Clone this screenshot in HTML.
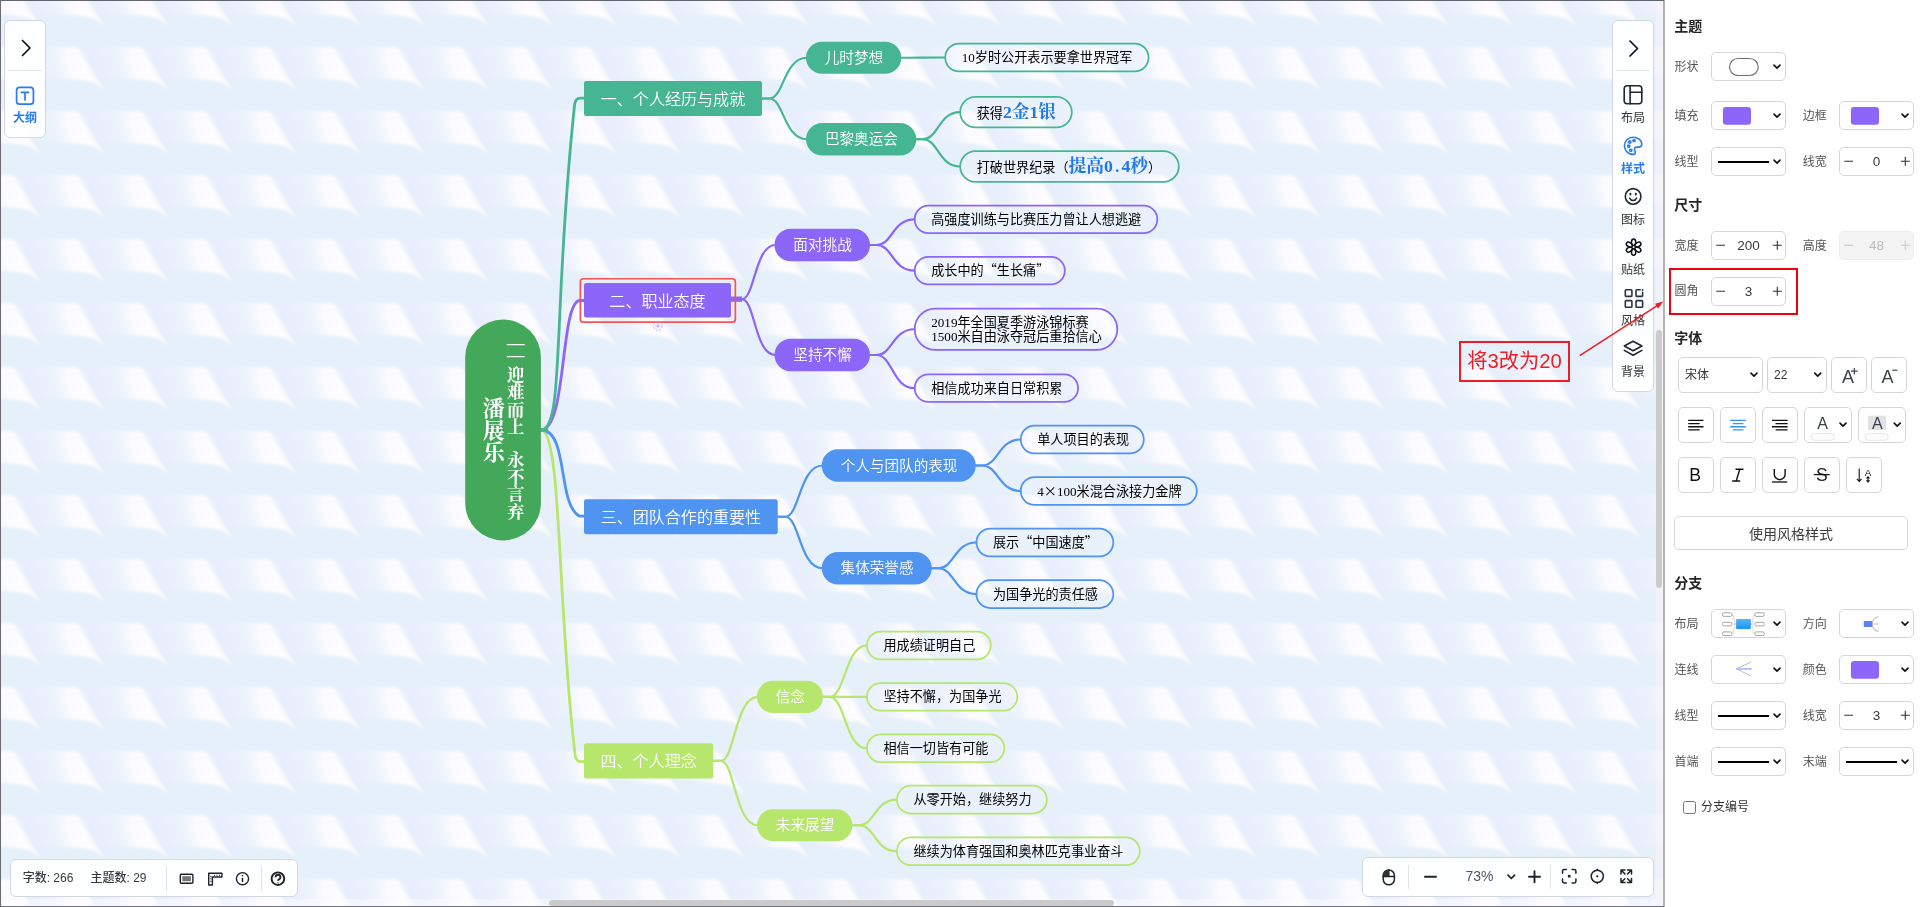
<!DOCTYPE html>
<html lang="zh-CN"><head><meta charset="utf-8"><title>思维导图</title>
<style>
*{box-sizing:border-box}
html,body{margin:0;padding:0}
body{width:1920px;height:907px;overflow:hidden;position:relative;background:#fff;font-family:'Liberation Sans','Noto Sans CJK SC',sans-serif;color:#333;font-size:12px}
#canvas{position:absolute;left:0;top:0;width:1663px;height:907px;overflow:hidden;background:#e6f0fa}
#map{position:absolute;left:0;top:0;display:block;will-change:transform}
#frame{position:absolute;left:0;top:0;width:1664px;height:907px;border-top:1px solid #5f6670;border-left:1px solid #6b6b73;border-bottom:1px solid #70737b;pointer-events:none}
#vborder{position:absolute;left:1663px;top:0;width:2px;height:907px;background:#b4b2b3}
#hscroll{position:absolute;left:549.400px;top:900px;width:565px;height:6px;border-radius:3px;background:#cbcbcb}
#vtrack{position:absolute;left:1656px;top:1px;width:7px;height:905px;background:rgba(247,243,247,.6)}
#htrack{position:absolute;left:1px;top:899px;width:1655px;height:7px;background:rgba(255,255,255,.4)}
#vscroll{position:absolute;left:1656px;top:329.5px;width:6px;height:258.5px;border-radius:3px;background:#cbcbcb}
.fl{will-change:transform;position:absolute;background:rgba(255,255,255,.9);border:1px solid #d3d8e0;border-radius:6px}
.fl svg{position:absolute;overflow:visible}
.lbl{position:absolute;width:42px;left:-1px;text-align:center;font-size:12px;line-height:14px;color:#333;white-space:nowrap}
#leftbar{left:4px;top:20px;width:42px;height:118px}
#rightbar{left:1612px;top:20px;width:42px;height:372px}
.sep{position:absolute;background:#dfe3ea}
#status{left:10px;top:859px;width:288px;height:38px}
#status span{position:absolute;top:11px;font-size:12px;line-height:14px;color:#3a3a3a;font-weight:500;white-space:nowrap}
#zoombar{left:1362px;top:857px;width:292px;height:40px}
#zoombar span{position:absolute;left:102.5px;top:10px;font-size:14px;line-height:16px;color:#555}
#panel{position:absolute;left:1665px;top:0;width:255px;height:907px;background:#fff;will-change:transform}
#panel .h{position:absolute;left:9.300px;font-size:14px;font-weight:700;color:#262626;line-height:16px;white-space:nowrap;margin-top:.8px}
#panel .l{position:absolute;font-size:12px;color:#555;line-height:14px;white-space:nowrap}
#panel .b{position:absolute;border:1px solid #d6d6d6;border-radius:5px;background:#fff}
#panel .b svg{position:absolute;overflow:visible}
#panel .b.dis{background:#f3f3f3;border-color:#ededed}
#panel .v{position:absolute;left:0;right:0;text-align:center;font-size:13.500px;line-height:16px;top:5.500px;color:#3a3a3a}
#panel .dis .v{color:#bdbdbd}
#panel .t{position:absolute;font-size:12px;line-height:14px;color:#333;white-space:nowrap}
#redbox{position:absolute;left:4px;top:268px;width:129px;height:46.700px;border:2px solid #f0000f}
#annot{will-change:transform;position:absolute;left:1459px;top:341px;width:111px;height:40.500px;border:2px solid #ee1c25;color:#ee1c25;font-size:20.300px;line-height:22px;text-align:center;padding-top:6.500px;white-space:nowrap}
#arrow{position:absolute;left:0;top:0;pointer-events:none}
</style></head><body>
<div id="canvas"><svg id="map" width="1663" height="907" viewBox="0 0 1663 907"><defs>
<linearGradient id="wg1" gradientUnits="userSpaceOnUse" x1="-42" x2="22" y1="0" y2="0" gradientTransform="matrix(1,0,.22,1,-14,0)"><stop offset="0" stop-color="#e9f0fc"/><stop offset=".09" stop-color="#e7eefb"/><stop offset=".34" stop-color="#e9f0fc"/><stop offset=".53" stop-color="#eff3fd"/><stop offset=".66" stop-color="#f6f8ff"/><stop offset=".76" stop-color="#fbfaff"/><stop offset=".9" stop-color="#fcfbff"/><stop offset="1" stop-color="#fcfbff"/></linearGradient>
<filter id="wb" x="-10%" y="-10%" width="120%" height="120%"><feGaussianBlur stdDeviation="1.600"/></filter>
<pattern id="wave" x="0" y="0" width="64" height="64" patternUnits="userSpaceOnUse">
<rect width="64" height="64" fill="#e6f0fa"/>
<g fill="url(#wg1)" filter="url(#wb)"><path d="M-49,47H9C13.500,47 15.500,49.500 17.500,53L32,78C35,81.500 37.500,85 39.500,89.500C34,84 25,80.500 12,79.500C-6,78.500 -20,77 -33,73.500Z" transform="translate(0,-64)"/><path d="M-49,47H9C13.500,47 15.500,49.500 17.500,53L32,78C35,81.500 37.500,85 39.500,89.500C34,84 25,80.500 12,79.500C-6,78.500 -20,77 -33,73.500Z" transform="translate(64,-64)"/><path d="M-49,47H9C13.500,47 15.500,49.500 17.500,53L32,78C35,81.500 37.500,85 39.500,89.500C34,84 25,80.500 12,79.500C-6,78.500 -20,77 -33,73.500Z" transform="translate(128,-64)"/><path d="M-49,47H9C13.500,47 15.500,49.500 17.500,53L32,78C35,81.500 37.500,85 39.500,89.500C34,84 25,80.500 12,79.500C-6,78.500 -20,77 -33,73.500Z" transform="translate(0,0)"/><path d="M-49,47H9C13.500,47 15.500,49.500 17.500,53L32,78C35,81.500 37.500,85 39.500,89.500C34,84 25,80.500 12,79.500C-6,78.500 -20,77 -33,73.500Z" transform="translate(64,0)"/><path d="M-49,47H9C13.500,47 15.500,49.500 17.500,53L32,78C35,81.500 37.500,85 39.500,89.500C34,84 25,80.500 12,79.500C-6,78.500 -20,77 -33,73.500Z" transform="translate(128,0)"/></g>
</pattern></defs><rect width="1663" height="907" fill="url(#wave)"/><g fill="none" stroke-width="2.2" stroke-linecap="round"><path d="M541,430C562.100,430 557.300,614 575.300,756Q576.200,761.700 581,761.700H585" stroke="#b6e66c" stroke-width="2.8"/><path d="M541,430C568.800,430 557.100,504.900 579.600,516.200H585" stroke="#5094f2" stroke-width="2.8"/><path d="M541,430C566.900,430 560,302.800 579.600,300.500H585" stroke="#8b66f8" stroke-width="2.8"/><path d="M541,430C564.8,430 552.4,312.3 574.6,104.500Q575.400,98.100 580.500,98.100H585" stroke="#46b692" stroke-width="2.8"/><path d="M540,430H547" stroke="#46b692" stroke-width="2.8"/><path d="M761,98.5H769.5C783.75,98.5 783.75,57.75 807,57.75" stroke="#46b692"/><path d="M761,98.5H769.5C783.75,98.5 783.75,139.25 807,139.25" stroke="#46b692"/><path d="M730,299.05H742C754.73,299.05 754.73,245 775.5,245" stroke="#8b66f8"/><path d="M730,299.05H742C754.73,299.05 754.73,355 775.5,355" stroke="#8b66f8"/><path d="M776.75,516.75H785.25C799.5,516.75 799.5,465.5 822.75,465.5" stroke="#5094f2"/><path d="M776.75,516.75H785.25C799.5,516.75 799.5,568.25 822.75,568.25" stroke="#5094f2"/><path d="M712.25,760.88H720.75C734.9,760.88 734.9,696.88 758,696.88" stroke="#b6e66c"/><path d="M712.25,760.88H720.75C734.9,760.88 734.9,825.25 758,825.25" stroke="#b6e66c"/><path d="M900.25,57.75H907.75C923.39,57.75 923.39,57.5 945,57.5" stroke="#46b692"/><path d="M915.25,139.25H922.75C938.39,139.25 938.39,112.12 960,112.12" stroke="#46b692"/><path d="M915.25,139.25H922.75C938.39,139.25 938.39,166.5 960,166.5" stroke="#46b692"/><path d="M869,245H876.5C892.46,245 892.46,219.38 914.5,219.38" stroke="#8b66f8"/><path d="M869,245H876.5C892.46,245 892.46,270.62 914.5,270.62" stroke="#8b66f8"/><path d="M869,355H876.5C892.46,355 892.46,329.25 914.5,329.25" stroke="#8b66f8"/><path d="M869,355H876.5C892.46,355 892.46,388.12 914.5,388.12" stroke="#8b66f8"/><path d="M974.75,465.5H982.25C998.32,465.5 998.32,439.5 1020.5,439.5" stroke="#5094f2"/><path d="M974.75,465.5H982.25C998.32,465.5 998.32,491 1020.5,491" stroke="#5094f2"/><path d="M930.75,568.25H938.25C954.21,568.25 954.21,542.5 976.25,542.5" stroke="#5094f2"/><path d="M930.75,568.25H938.25C954.21,568.25 954.21,594.12 976.25,594.12" stroke="#5094f2"/><path d="M822,696.88H829.5C845.14,696.88 845.14,645.5 866.75,645.5" stroke="#b6e66c"/><path d="M822,696.88H829.5C845.14,696.88 845.14,696.88 866.75,696.88" stroke="#b6e66c"/><path d="M822,696.88H829.5C845.14,696.88 845.14,748.25 866.75,748.25" stroke="#b6e66c"/><path d="M851.5,825.25H859C874.86,825.25 874.86,799.62 896.75,799.62" stroke="#b6e66c"/><path d="M851.5,825.25H859C874.86,825.25 874.86,851.25 896.75,851.25" stroke="#b6e66c"/></g><g font-family="'Liberation Serif','Noto Sans CJK SC',sans-serif"><path d="M731,297.500H742M731,300.700H742" stroke="#8b66f8" stroke-width="2.200" fill="none"/><rect x="465.2" y="319.5" width="75.7" height="221" rx="37.85" fill="#44a85a"/><text text-anchor="middle" font-family="'Liberation Serif','Noto Serif CJK SC',serif" font-weight="700" font-size="17.5" fill="#fff"><tspan x="515.7" y="348.5">—</tspan><tspan x="515.7" y="361.2">—</tspan><tspan x="515.7" y="380.5">迎</tspan><tspan x="515.7" y="398.2">难</tspan><tspan x="515.7" y="415.9">而</tspan><tspan x="515.7" y="432.6">上</tspan><tspan x="515.7" y="465.5">永</tspan><tspan x="515.7" y="482.7">不</tspan><tspan x="515.7" y="500">言</tspan><tspan x="515.7" y="518">弃</tspan></text><text text-anchor="middle" font-family="'Liberation Serif','Noto Serif CJK SC',serif" font-weight="700" font-size="21.9" fill="#fff"><tspan x="493.6" y="415.7">潘</tspan><tspan x="493.6" y="438">展</tspan><tspan x="493.6" y="459.7">乐</tspan></text><rect x="584" y="81" width="178" height="35" rx="2.2" fill="#46b692"/><text x="673" y="104.8" text-anchor="middle" font-size="16.06" font-weight="350" fill="#fff">一、个人经历与成就</text><rect x="584" y="283" width="147" height="34.5" rx="2.2" fill="#8b66f8"/><text x="657.5" y="306.55" text-anchor="middle" font-size="16.06" font-weight="350" fill="#fff">二、职业态度</text><rect x="584" y="499.25" width="193.75" height="35" rx="2.2" fill="#5094f2"/><text x="680.88" y="523.05" text-anchor="middle" font-size="16.06" font-weight="350" fill="#fff">三、团队合作的重要性</text><rect x="584" y="743.25" width="129.25" height="35.25" rx="2.2" fill="#b6e66c"/><text x="648.62" y="767.17" text-anchor="middle" font-size="16.06" font-weight="350" fill="#fff">四、个人理念</text><rect x="580.350" y="278.750" width="155" height="43.400" rx="3" fill="none" stroke="#fb5252" stroke-width="1.700"/><g stroke="#b5a0fa" fill="none" stroke-width="0.900"><circle cx="657.900" cy="326" r="4.300" stroke-dasharray="2 1.400"/><path d="M657.900,323.500v5M655.400,326h5"/></g><rect x="806" y="41.75" width="95.25" height="32" rx="16" fill="#46b692"/><text x="853.92" y="62.85" text-anchor="middle" font-size="14.6" font-weight="350" fill="#fff">儿时梦想</text><rect x="806" y="123" width="110.25" height="32.5" rx="16.25" fill="#46b692"/><text x="861.42" y="144.35" text-anchor="middle" font-size="14.6" font-weight="350" fill="#fff">巴黎奥运会</text><rect x="774.5" y="228.75" width="95.5" height="32.5" rx="16.25" fill="#8b66f8"/><text x="822.55" y="250.1" text-anchor="middle" font-size="14.6" font-weight="350" fill="#fff">面对挑战</text><rect x="774.5" y="338.75" width="95.5" height="32.5" rx="16.25" fill="#8b66f8"/><text x="822.55" y="360.1" text-anchor="middle" font-size="14.6" font-weight="350" fill="#fff">坚持不懈</text><rect x="821.75" y="449.25" width="154" height="32.5" rx="16.25" fill="#5094f2"/><text x="899.05" y="470.6" text-anchor="middle" font-size="14.6" font-weight="350" fill="#fff">个人与团队的表现</text><rect x="821.75" y="552" width="110" height="32.5" rx="16.25" fill="#5094f2"/><text x="877.05" y="573.35" text-anchor="middle" font-size="14.6" font-weight="350" fill="#fff">集体荣誉感</text><rect x="757" y="680.75" width="66" height="32.25" rx="16.12" fill="#b6e66c"/><text x="790.3" y="701.98" text-anchor="middle" font-size="14.6" font-weight="350" fill="#fff">信念</text><rect x="757" y="809.25" width="95.5" height="32" rx="16" fill="#b6e66c"/><text x="805.05" y="830.35" text-anchor="middle" font-size="14.6" font-weight="350" fill="#fff">未来展望</text><rect x="945.2" y="43.7" width="203.35" height="27.6" rx="13.8" fill="rgba(255,255,255,.12)" stroke="#46b692" stroke-width="1.750"/><text x="961.7" y="62.1" font-size="13.14" fill="#000">10岁时公开表示要拿世界冠军</text><rect x="960.2" y="96.95" width="111.6" height="30.35" rx="15.18" fill="rgba(255,255,255,.12)" stroke="#46b692" stroke-width="1.750"/><text x="976.7" y="117.72" font-size="13.14" fill="#000">获得<tspan font-family="'Liberation Serif','Noto Serif CJK SC',serif" font-weight="700" font-size="17.7" fill="#1f77ee">2金1银</tspan></text><rect x="960.2" y="151.2" width="218.6" height="30.6" rx="15.3" fill="rgba(255,255,255,.12)" stroke="#46b692" stroke-width="1.750"/><text x="976.7" y="172.1" font-size="13.14" fill="#000">打破世界纪录（<tspan font-family="'Liberation Serif','Noto Serif CJK SC',serif" font-weight="700" font-size="17.7" fill="#1f77ee">提高0<tspan dx="2.1">.</tspan><tspan dx="2.1">4</tspan>秒</tspan>）</text><rect x="914.7" y="205.7" width="242.6" height="27.35" rx="13.68" fill="rgba(255,255,255,.12)" stroke="#8b66f8" stroke-width="1.750"/><text x="931.2" y="223.97" font-size="13.14" fill="#000">高强度训练与比赛压力曾让人想逃避</text><rect x="914.7" y="256.95" width="150.1" height="27.35" rx="13.68" fill="rgba(255,255,255,.12)" stroke="#8b66f8" stroke-width="1.750"/><text x="931.2" y="275.23" font-size="13.14" fill="#000">成长中的<tspan font-family="'Noto Sans CJK SC',sans-serif">“</tspan>生长痛<tspan font-family="'Noto Sans CJK SC',sans-serif">”</tspan></text><rect x="914.7" y="308.7" width="202.6" height="41.1" rx="20.55" fill="rgba(255,255,255,.12)" stroke="#8b66f8" stroke-width="1.750"/><text font-size="13.14" fill="#000"><tspan x="931.2" y="326.75">2019年全国夏季游泳锦标赛</tspan><tspan x="931.2" y="340.95">1500米自由泳夺冠后重拾信心</tspan></text><rect x="914.7" y="374.45" width="163.35" height="27.35" rx="13.68" fill="rgba(255,255,255,.12)" stroke="#8b66f8" stroke-width="1.750"/><text x="931.2" y="392.73" font-size="13.14" fill="#000">相信成功来自日常积累</text><rect x="1020.7" y="425.7" width="123.1" height="27.6" rx="13.8" fill="rgba(255,255,255,.12)" stroke="#5094f2" stroke-width="1.750"/><text x="1037.2" y="444.1" font-size="13.14" fill="#000">单人项目的表现</text><rect x="1020.7" y="477.2" width="176.1" height="27.6" rx="13.8" fill="rgba(255,255,255,.12)" stroke="#5094f2" stroke-width="1.750"/><text x="1037.2" y="495.6" font-size="13.14" fill="#000">4<tspan font-family="'Noto Sans CJK SC',sans-serif">×</tspan>100米混合泳接力金牌</text><rect x="976.45" y="528.7" width="136.85" height="27.6" rx="13.8" fill="rgba(255,255,255,.12)" stroke="#5094f2" stroke-width="1.750"/><text x="992.95" y="547.1" font-size="13.14" fill="#000">展示<tspan font-family="'Noto Sans CJK SC',sans-serif">“</tspan>中国速度<tspan font-family="'Noto Sans CJK SC',sans-serif">”</tspan></text><rect x="976.45" y="580.2" width="136.85" height="27.85" rx="13.93" fill="rgba(255,255,255,.12)" stroke="#5094f2" stroke-width="1.750"/><text x="992.95" y="598.73" font-size="13.14" fill="#000">为国争光的责任感</text><rect x="866.95" y="631.7" width="123.85" height="27.6" rx="13.8" fill="rgba(255,255,255,.12)" stroke="#b6e66c" stroke-width="1.750"/><text x="883.45" y="650.1" font-size="13.14" fill="#000">用成绩证明自己</text><rect x="866.95" y="683.2" width="150.35" height="27.35" rx="13.68" fill="rgba(255,255,255,.12)" stroke="#b6e66c" stroke-width="1.750"/><text x="883.45" y="701.48" font-size="13.14" fill="#000">坚持不懈，为国争光</text><rect x="866.95" y="734.45" width="137.35" height="27.6" rx="13.8" fill="rgba(255,255,255,.12)" stroke="#b6e66c" stroke-width="1.750"/><text x="883.45" y="752.85" font-size="13.14" fill="#000">相信一切皆有可能</text><rect x="896.95" y="785.7" width="149.85" height="27.85" rx="13.93" fill="rgba(255,255,255,.12)" stroke="#b6e66c" stroke-width="1.750"/><text x="913.45" y="804.23" font-size="13.14" fill="#000">从零开始，继续努力</text><rect x="896.95" y="837.45" width="242.85" height="27.6" rx="13.8" fill="rgba(255,255,255,.12)" stroke="#b6e66c" stroke-width="1.750"/><text x="913.45" y="855.85" font-size="13.14" fill="#000">继续为体育强国和奥林匹克事业奋斗</text></g></svg>
<div id="htrack"></div><div id="vtrack"></div><div id="hscroll"></div><div id="vscroll"></div>
<div class="fl" id="leftbar">
<svg width="41" height="118" style="left:-.2px;top:-1px"><path d="M17.5,20.5l7.5,7.5l-7.5,7.5" fill="none" stroke="#111" stroke-width="1.7" stroke-linecap="round" stroke-linejoin="round"/>
<rect x="11.6" y="67.4" width="16.8" height="16.8" rx="3" fill="none" stroke="#2b7cf0" stroke-width="1.7"/>
<path d="M16.4,72.3h7.2M20,72.3v7.6" fill="none" stroke="#2b7cf0" stroke-width="1.7" stroke-linecap="round"/></svg>
<div class="sep" style="left:3px;top:48.5px;width:33px;height:1px"></div>
<div class="lbl" style="top:89.5px;color:#2b7cf0;font-weight:700">大纲</div>
</div><div class="fl" id="status">
<span style="left:11.7px">字数: 266</span><span style="left:79.5px">主题数: 29</span>
<div class="sep" style="left:154.800px;top:6px;width:1px;height:25px"></div>
<div class="sep" style="left:250px;top:6px;width:1px;height:25px"></div>
<svg width="287" height="37" style="left:-.4px;top:-1.500px">
<g fill="none" stroke="#222" stroke-width="1.4">
<rect x="169.3" y="15.2" width="12.6" height="9" rx="1"/><rect x="171.300" y="17.200" width="8.600" height="5" fill="#777" stroke="none"/>
<path d="M197.7,26V14.3h13.2v3.7h-9.5v8z" stroke-linejoin="round"/><path d="M199,17.3h1.6M199,19.8h1.6M199,22.3h1.6M203.5,15.8v1.2M206,15.8v1.2M208.5,15.8v1.2" stroke-width=".8"/>
<circle cx="231.5" cy="19.7" r="6.1"/><path d="M231.5,18.7v4.2M231.5,16.1v1.2" stroke-width="1.5"/>
<circle cx="266.9" cy="19.7" r="6.3" stroke-width="1.9"/><path d="M264.600,18.200a2.400,2.400 0 1 1 3.500,2.100q-1.100,.6 -1.100,1.500M267,23.400v.8" stroke-width="1.900"/>
</g></svg></div><div class="fl" id="zoombar">
<span>73%</span>
<div class="sep" style="left:45.2px;top:7px;width:1px;height:24px"></div>
<div class="sep" style="left:187px;top:7px;width:1px;height:24px"></div>
<svg width="291" height="39" style="left:-.5px;top:-.6px">
<g fill="none" stroke="#222" stroke-width="1.5" stroke-linecap="round" stroke-linejoin="round">
<path d="M20.2,18.6a5.6,5.6 0 0 1 11.2,0v3.6a5.6,5.6 0 0 1 -11.2,0z"/><path d="M20.2,19.4h11.2M25.8,13v6.4"/><path d="M20.4,19.2a5.4,5.4 0 0 1 5.2,-6v6z" fill="#333" stroke="none"/>
<path d="M62,19.7h11" stroke-width="1.9"/>
<path d="M166,19.7h11M171.5,14.2v11" stroke-width="1.9"/>
<path d="M145,18.2l3.3,3.3l3.3,-3.3" stroke-width="1.7"/>
<path d="M199.5,16.3v-2.2a1.6,1.6 0 0 1 1.6,-1.6h2.2M209.1,12.5h2.2a1.6,1.6 0 0 1 1.6,1.6v2.2M212.9,22.1v2.2a1.6,1.6 0 0 1 -1.6,1.6h-2.2M203.3,25.9h-2.2a1.6,1.6 0 0 1 -1.6,-1.6v-2.2"/><rect x="204.9" y="17.9" width="2.6" height="2.6" fill="#222" stroke="none"/>
<circle cx="234.3" cy="19.3" r="6.1"/><circle cx="234.3" cy="19.3" r="1.1" fill="#222" stroke="none"/><path d="M234.3,12.2v1M234.3,25.4v1" />
<path d="M258,17v-4h4M268.5,13h-4M268.500,13h0M268.5,13v4M258,21.600v4h4M268.5,21.600v4h-4M258.300,13.300l3.600,3.600M268.200,13.300l-3.600,3.600M258.300,25.300l3.600,-3.600M268.200,25.300l-3.600,-3.600" stroke-width="1.5"/>
</g></svg></div><div class="fl" id="rightbar">
<svg width="41" height="372" style="left:-1px;top:-1px">
<g fill="none" stroke="#1f2733" stroke-width="1.6" stroke-linecap="round" stroke-linejoin="round" transform="translate(.5,0)">
<path d="M17.5,21l7.5,7.500l-7.5,7.500" stroke="#111" stroke-width="1.7"/>
<rect x="11.700" y="65.800" width="17.600" height="18" rx="3"/><path d="M17.600,65.800v18M17.600,72.200h11.700"/>
<g stroke="#2b7cf0"><path d="M20.500,117.200a8.600,8.600 0 1 0 0,17.200c1.700,0 2.400,-1 2.400,-2.100c0,-1.500 -1,-1.900 -1,-3.100c0,-1.300 1.100,-2.100 2.400,-2.100h1.700c2.100,0 3.300,-1.400 3.300,-3.200c0,-3.900 -3.900,-6.700 -8.800,-6.700z"/><circle cx="16.200" cy="126.200" r="1.100"/><circle cx="17.300" cy="122" r="1.100"/><circle cx="21.500" cy="120.600" r="1.100"/><circle cx="18.300" cy="130.300" r="1.100"/></g>
<circle cx="20.600" cy="176.400" r="7.800"/><path d="M17.200,178.200a3.700,3.700 0 0 0 6.800,0"/><path d="M17.900,173.600v.9M23.300,173.600v.9" stroke-width="1.900"/>
<g stroke-width="1.500" stroke="#111"><ellipse cx="21.10" cy="222.20" rx="2.150" ry="3.250" transform="rotate(0 21.10 222.20)"/><ellipse cx="25.34" cy="224.65" rx="2.150" ry="3.250" transform="rotate(60 25.34 224.65)"/><ellipse cx="25.34" cy="229.55" rx="2.150" ry="3.250" transform="rotate(120 25.34 229.55)"/><ellipse cx="21.10" cy="232.00" rx="2.150" ry="3.250" transform="rotate(180 21.10 232.00)"/><ellipse cx="16.86" cy="229.55" rx="2.150" ry="3.250" transform="rotate(240 16.86 229.55)"/><ellipse cx="16.86" cy="224.65" rx="2.150" ry="3.250" transform="rotate(300 16.86 224.65)"/></g>
<g stroke="#2b3442" stroke-width="1.600"><rect x="12.800" y="269.800" width="6.600" height="6.600" rx=".8"/><rect x="12.800" y="280.600" width="6.600" height="6.600" rx=".8"/><rect x="23.500" y="280.600" width="6.600" height="6.600" rx=".8"/><path d="M27.600,269.800h-3.300a.8,.8 0 0 0 -.8,.8v5a.8,.8 0 0 0 .8,.8h5a.8,.8 0 0 0 .8,-.8v-3.200"/><path d="M30,269.900v.100" stroke-width="1.900"/></g>
<path d="M20.600,321.200l8.800,4.800l-8.800,4.800l-8.800,-4.800z"/><path d="M11.800,330.400l8.800,4.800l8.800,-4.800"/>
</g></svg>
<div class="sep" style="left:3px;top:48.500px;width:33px;height:1px"></div>
<div class="lbl" style="top:89.500px">布局</div>
<div class="lbl" style="top:140.500px;color:#2b7cf0;font-weight:700">样式</div>
<div class="lbl" style="top:191.500px">图标</div>
<div class="lbl" style="top:241.500px">贴纸</div>
<div class="lbl" style="top:292.500px">风格</div>
<div class="lbl" style="top:343.500px">背景</div>
</div></div>
<div id="vborder"></div>
<div id="panel"><div class="h" style="top:17px">主题</div><div class="l" style="left:9.5px;top:59.5px">形状</div><div class="b" style="left:46px;top:52px;width:75px;height:29px"><svg width="75" height="29" style="left:-1px;top:-1px"><rect x="18.500" y="6.500" width="28.700" height="17" rx="8.500" fill="none" stroke="#707070" stroke-width="1.200"/><g transform="translate(66,14.6)"><path d="M-3,-1.500L0,1.500L3,-1.500" fill="none" stroke="#111" stroke-width="1.600" stroke-linecap="round" stroke-linejoin="round"/></g></svg></div><div class="l" style="left:9.5px;top:108.5px">填充</div><div class="b" style="left:46px;top:101px;width:75px;height:29px"><svg width="75" height="29" style="left:-1px;top:-1px"><rect x="11.900" y="6" width="28.100" height="17.800" rx="3.200" fill="#8b66f8"/><g transform="translate(66,14.6)"><path d="M-3,-1.500L0,1.500L3,-1.500" fill="none" stroke="#111" stroke-width="1.600" stroke-linecap="round" stroke-linejoin="round"/></g></svg></div><div class="l" style="left:137.8px;top:108.5px">边框</div><div class="b" style="left:174px;top:101px;width:75px;height:29px"><svg width="75" height="29" style="left:-1px;top:-1px"><rect x="11.900" y="6" width="28.100" height="17.800" rx="3.200" fill="#8b66f8"/><g transform="translate(66,14.6)"><path d="M-3,-1.500L0,1.500L3,-1.500" fill="none" stroke="#111" stroke-width="1.600" stroke-linecap="round" stroke-linejoin="round"/></g></svg></div><div class="l" style="left:9.5px;top:154.5px">线型</div><div class="b" style="left:46px;top:147px;width:75px;height:29px"><svg width="75" height="29" style="left:-1px;top:-1px"><path d="M7,15h51" stroke="#000" stroke-width="2"/><g transform="translate(66,14.6)"><path d="M-3,-1.500L0,1.500L3,-1.500" fill="none" stroke="#111" stroke-width="1.600" stroke-linecap="round" stroke-linejoin="round"/></g></svg></div><div class="l" style="left:137.8px;top:154.5px">线宽</div><div class="b" style="left:174px;top:147px;width:75px;height:29px"><svg width="75" height="29" style="left:-1px;top:-1px"><path d="M5.200,14.300h8.800M61.800,14.300h9M66.300,9.800v9" stroke="#333" stroke-width="1.100" fill="none"/></svg><div class="v">0</div></div><div class="h" style="top:196px">尺寸</div><div class="l" style="left:9.5px;top:238.5px">宽度</div><div class="b" style="left:46px;top:231px;width:75px;height:29px"><svg width="75" height="29" style="left:-1px;top:-1px"><path d="M5.200,14.300h8.800M61.800,14.300h9M66.300,9.800v9" stroke="#333" stroke-width="1.100" fill="none"/></svg><div class="v">200</div></div><div class="l" style="left:137.8px;top:238.5px">高度</div><div class="b dis" style="left:174px;top:231px;width:75px;height:29px"><svg width="75" height="29" style="left:-1px;top:-1px"><path d="M5.200,14.300h8.800M61.800,14.300h9M66.300,9.800v9" stroke="#c8c8c8" stroke-width="1.100" fill="none"/></svg><div class="v">48</div></div><div class="l" style="left:9.5px;top:284.3px">圆角</div><div class="b" style="left:46px;top:277px;width:75px;height:29px"><svg width="75" height="29" style="left:-1px;top:-1px"><path d="M5.200,14.300h8.800M61.800,14.300h9M66.300,9.800v9" stroke="#333" stroke-width="1.100" fill="none"/></svg><div class="v">3</div></div><div id="redbox"></div><div class="h" style="top:329px">字体</div><div class="b" style="left:13px;top:357px;width:85px;height:36px"><svg width="85" height="36" style="left:-1px;top:-1px"><g transform="translate(76,17.6)"><path d="M-3,-1.500L0,1.500L3,-1.500" fill="none" stroke="#111" stroke-width="1.600" stroke-linecap="round" stroke-linejoin="round"/></g></svg><div class="t" style="left:6px;top:9.500px">宋体</div></div><div class="b" style="left:102px;top:357px;width:60px;height:36px"><svg width="60" height="36" style="left:-1px;top:-1px"><g transform="translate(50.7,17.6)"><path d="M-3,-1.500L0,1.500L3,-1.500" fill="none" stroke="#111" stroke-width="1.600" stroke-linecap="round" stroke-linejoin="round"/></g></svg><div class="t" style="left:6px;top:9.500px">22</div></div><div class="b" style="left:166px;top:357px;width:36px;height:36px"><svg width="36" height="36" style="left:-1px;top:-1px"><text x="11" y="25.500" font-size="18" fill="#3a4250" font-family="'Liberation Sans',sans-serif">A</text><path d="M20,14.200h6.600M23.300,10.900v6.600" stroke="#3a4250" stroke-width="1.200" fill="none"/></svg></div><div class="b" style="left:206px;top:357px;width:36px;height:36px"><svg width="36" height="36" style="left:-1px;top:-1px"><text x="10.5" y="25.500" font-size="18" fill="#3a4250" font-family="'Liberation Sans',sans-serif">A</text><path d="M21.300,13.200h5" stroke="#3a4250" stroke-width="1.200" fill="none"/></svg></div><div class="b" style="left:13px;top:407px;width:36px;height:36px"><svg width="36" height="36" style="left:-1px;top:-1px"><path d="M10.2,13.4h15.3M10.2,16.6h11.5M10.2,19.7h15.3M10.2,22.8h11.5" stroke="#111" stroke-width="1.350" fill="none"/></svg></div><div class="b" style="left:55px;top:407px;width:36px;height:36px"><svg width="36" height="36" style="left:-1px;top:-1px"><path d="M10.1,13.4h15.7M12.7,16.6h10.7M10.1,19.7h15.7M12.7,22.8h10.7" stroke="#3396ff" stroke-width="1.350" fill="none"/></svg></div><div class="b" style="left:97px;top:407px;width:36px;height:36px"><svg width="36" height="36" style="left:-1px;top:-1px"><path d="M10,13.4h15.6M13.6,16.6h12M10,19.7h15.6M13.6,22.8h12" stroke="#111" stroke-width="1.350" fill="none"/></svg></div><div class="b" style="left:139px;top:407px;width:48px;height:36px"><svg width="48" height="36" style="left:-1px;top:-1px"><text x="13.3" y="21.900" font-size="16" fill="#3a4250" font-family="'Liberation Sans',sans-serif">A</text><rect x="7.3" y="26.600" width="23" height="6.600" rx="3.300" fill="#fff" stroke="#e4e4e4" stroke-width="1"/><g transform="translate(39,17.6)"><path d="M-3,-1.500L0,1.500L3,-1.500" fill="none" stroke="#111" stroke-width="1.600" stroke-linecap="round" stroke-linejoin="round"/></g></svg></div><div class="b" style="left:193px;top:407px;width:48px;height:36px"><svg width="48" height="36" style="left:-1px;top:-1px"><rect x="10" y="8.700" width="18.100" height="14.300" fill="#e2e2e2"/><text x="13.9" y="21.900" font-size="16" fill="#3a4250" font-family="'Liberation Sans',sans-serif">A</text><rect x="7.2" y="26.600" width="23" height="6.600" rx="3.300" fill="#fff" stroke="#e4e4e4" stroke-width="1"/><g transform="translate(39.2,17.6)"><path d="M-3,-1.500L0,1.500L3,-1.500" fill="none" stroke="#111" stroke-width="1.600" stroke-linecap="round" stroke-linejoin="round"/></g></svg></div><div class="b" style="left:13px;top:457px;width:36px;height:36px"><svg width="36" height="36" style="left:-1px;top:-1px"><text x="11.300" y="24.300" font-size="17.600" fill="#111" font-family="'Liberation Sans',sans-serif">B</text></svg></div><div class="b" style="left:55px;top:457px;width:36px;height:36px"><svg width="36" height="36" style="left:-1px;top:-1px"><path d="M15.500,12.200h8M12.200,24h8M19.800,12.200l-3.600,11.800" stroke="#111" stroke-width="1.400" fill="none"/></svg></div><div class="b" style="left:97px;top:457px;width:36px;height:36px"><svg width="36" height="36" style="left:-1px;top:-1px"><path d="M12.300,12v5.300a5.400,5.400 0 0 0 10.800,0v-5.300" stroke="#111" stroke-width="1.400" fill="none"/><path d="M10,25h15.200" stroke="#111" stroke-width="1.300"/></svg></div><div class="b" style="left:139px;top:457px;width:36px;height:36px"><svg width="36" height="36" style="left:-1px;top:-1px"><text x="12" y="24.300" font-size="17.600" fill="#222" font-family="'Liberation Sans',sans-serif">S</text><path d="M9.800,17.600h15.800" stroke="#111" stroke-width="1.200"/></svg></div><div class="b" style="left:181px;top:457px;width:36px;height:36px"><svg width="36" height="36" style="left:-1px;top:-1px"><path d="M13.200,11.600v12.600M10.900,21.800l2.300,2.600l2.300,-2.600M22,20v4.600M20.500,21.300l1.500,-1.600l1.500,1.600M20.500,23.400l1.500,1.600l1.500,-1.600" stroke="#111" stroke-width="1.100" fill="none"/><text x="18.800" y="18.800" font-size="9.800" fill="#111" font-family="'Liberation Sans',sans-serif">A</text></svg></div><div class="b" style="left:9px;top:516px;width:234px;height:34px"><div class="v" style="top:9.300px;font-size:14px;color:#3c3c3c">使用风格样式</div></div><div class="h" style="top:574.300px">分支</div><div class="l" style="left:9.5px;top:616.5px">布局</div><div class="b" style="left:46px;top:609px;width:75px;height:29px"><svg width="75" height="29" style="left:-1px;top:-1px"><defs><linearGradient id="lg" x1="0" x2="0" y1="0" y2="1"><stop offset="0" stop-color="#52b8fc"/><stop offset="1" stop-color="#1c94ee"/></linearGradient></defs><path d="M25,15c-2.500,0 -1.500,-9.400 -3.600,-9.400M25,15h-3.600M25,15c-2.500,0 -1.500,9.600 -3.600,9.600M40,15c2.500,0 1.500,-9.400 3.400,-9.400M40,15h3.400M40,15c2.500,0 1.500,9.600 3.400,9.600" stroke="#d9c9c0" stroke-width=".8" fill="none"/><g fill="#fff" stroke="#a6a6a6" stroke-width="1"><rect x="11.500" y="3.800" width="9.500" height="3.600" rx="1.500"/><rect x="11.500" y="13.300" width="9.500" height="3.600" rx="1.500"/><rect x="11.500" y="22.900" width="9.500" height="3.600" rx="1.500"/><rect x="43.800" y="3.800" width="9.500" height="3.600" rx="1.500"/><rect x="43.800" y="13.300" width="9.500" height="3.600" rx="1.500"/><rect x="43.800" y="22.900" width="9.500" height="3.600" rx="1.500"/></g><rect x="25.100" y="10" width="14.800" height="9.900" rx=".8" fill="url(#lg)"/><g transform="translate(66,14.6)"><path d="M-3,-1.500L0,1.500L3,-1.500" fill="none" stroke="#111" stroke-width="1.600" stroke-linecap="round" stroke-linejoin="round"/></g></svg></div><div class="l" style="left:137.8px;top:616.5px">方向</div><div class="b" style="left:174px;top:609px;width:75px;height:29px"><svg width="75" height="29" style="left:-1px;top:-1px"><path d="M33,15h6.500M39.600,7.800c-4,.6 -6.300,3.600 -6.500,7.200c.2,3.600 2.500,6.600 6.500,7.400" stroke="#bcbcbc" stroke-width="1.100" fill="none"/><rect x="24.800" y="12" width="8.300" height="5.900" rx=".5" fill="#6080f5"/><g transform="translate(66,14.6)"><path d="M-3,-1.500L0,1.500L3,-1.500" fill="none" stroke="#111" stroke-width="1.600" stroke-linecap="round" stroke-linejoin="round"/></g></svg></div><div class="l" style="left:9.5px;top:662.6px">连线</div><div class="b" style="left:46px;top:655px;width:75px;height:29px"><svg width="75" height="29" style="left:-1px;top:-1px"><path d="M40.100,7.100L25.100,13.900L40.100,20.900" stroke="#bdbdbd" stroke-width="1" fill="none"/><path d="M25.100,13.900H40.800" stroke="#a9c4fb" stroke-width="1.900"/><g transform="translate(66,14.6)"><path d="M-3,-1.500L0,1.500L3,-1.500" fill="none" stroke="#111" stroke-width="1.600" stroke-linecap="round" stroke-linejoin="round"/></g></svg></div><div class="l" style="left:137.8px;top:662.6px">颜色</div><div class="b" style="left:174px;top:655px;width:75px;height:29px"><svg width="75" height="29" style="left:-1px;top:-1px"><rect x="11.900" y="6" width="28.100" height="17.800" rx="3.200" fill="#8b66f8"/><g transform="translate(66,14.6)"><path d="M-3,-1.500L0,1.500L3,-1.500" fill="none" stroke="#111" stroke-width="1.600" stroke-linecap="round" stroke-linejoin="round"/></g></svg></div><div class="l" style="left:9.5px;top:708.7px">线型</div><div class="b" style="left:46px;top:701px;width:75px;height:29px"><svg width="75" height="29" style="left:-1px;top:-1px"><path d="M7,15h51" stroke="#000" stroke-width="2"/><g transform="translate(66,14.6)"><path d="M-3,-1.500L0,1.500L3,-1.500" fill="none" stroke="#111" stroke-width="1.600" stroke-linecap="round" stroke-linejoin="round"/></g></svg></div><div class="l" style="left:137.8px;top:708.7px">线宽</div><div class="b" style="left:174px;top:701px;width:75px;height:29px"><svg width="75" height="29" style="left:-1px;top:-1px"><path d="M5.200,14.300h8.800M61.800,14.300h9M66.300,9.800v9" stroke="#333" stroke-width="1.100" fill="none"/></svg><div class="v">3</div></div><div class="l" style="left:9.5px;top:754.8px">首端</div><div class="b" style="left:46px;top:747px;width:75px;height:29px"><svg width="75" height="29" style="left:-1px;top:-1px"><path d="M7,15h51" stroke="#000" stroke-width="2"/><g transform="translate(66,14.6)"><path d="M-3,-1.500L0,1.500L3,-1.500" fill="none" stroke="#111" stroke-width="1.600" stroke-linecap="round" stroke-linejoin="round"/></g></svg></div><div class="l" style="left:137.8px;top:754.8px">末端</div><div class="b" style="left:174px;top:747px;width:75px;height:29px"><svg width="75" height="29" style="left:-1px;top:-1px"><path d="M7,15h51" stroke="#000" stroke-width="2"/><g transform="translate(66,14.6)"><path d="M-3,-1.500L0,1.500L3,-1.500" fill="none" stroke="#111" stroke-width="1.600" stroke-linecap="round" stroke-linejoin="round"/></g></svg></div><div style="position:absolute;left:18px;top:801px;width:13px;height:13px;border:1px solid #767676;border-radius:2.500px;background:#fff"></div><div class="t" style="left:36px;top:800.300px;color:#333">分支编号</div></div>
<div id="annot">将3改为20</div>
<svg id="arrow" width="1920" height="907"><path d="M1579.700,355.700L1660,303.800" stroke="#ee1c25" stroke-width="1.500" fill="none"/><path d="M1663.300,301.500l-8.300,2.200l3.200,4.800z" fill="#ee1c25"/></svg>
<div id="frame"></div>
</body></html>
